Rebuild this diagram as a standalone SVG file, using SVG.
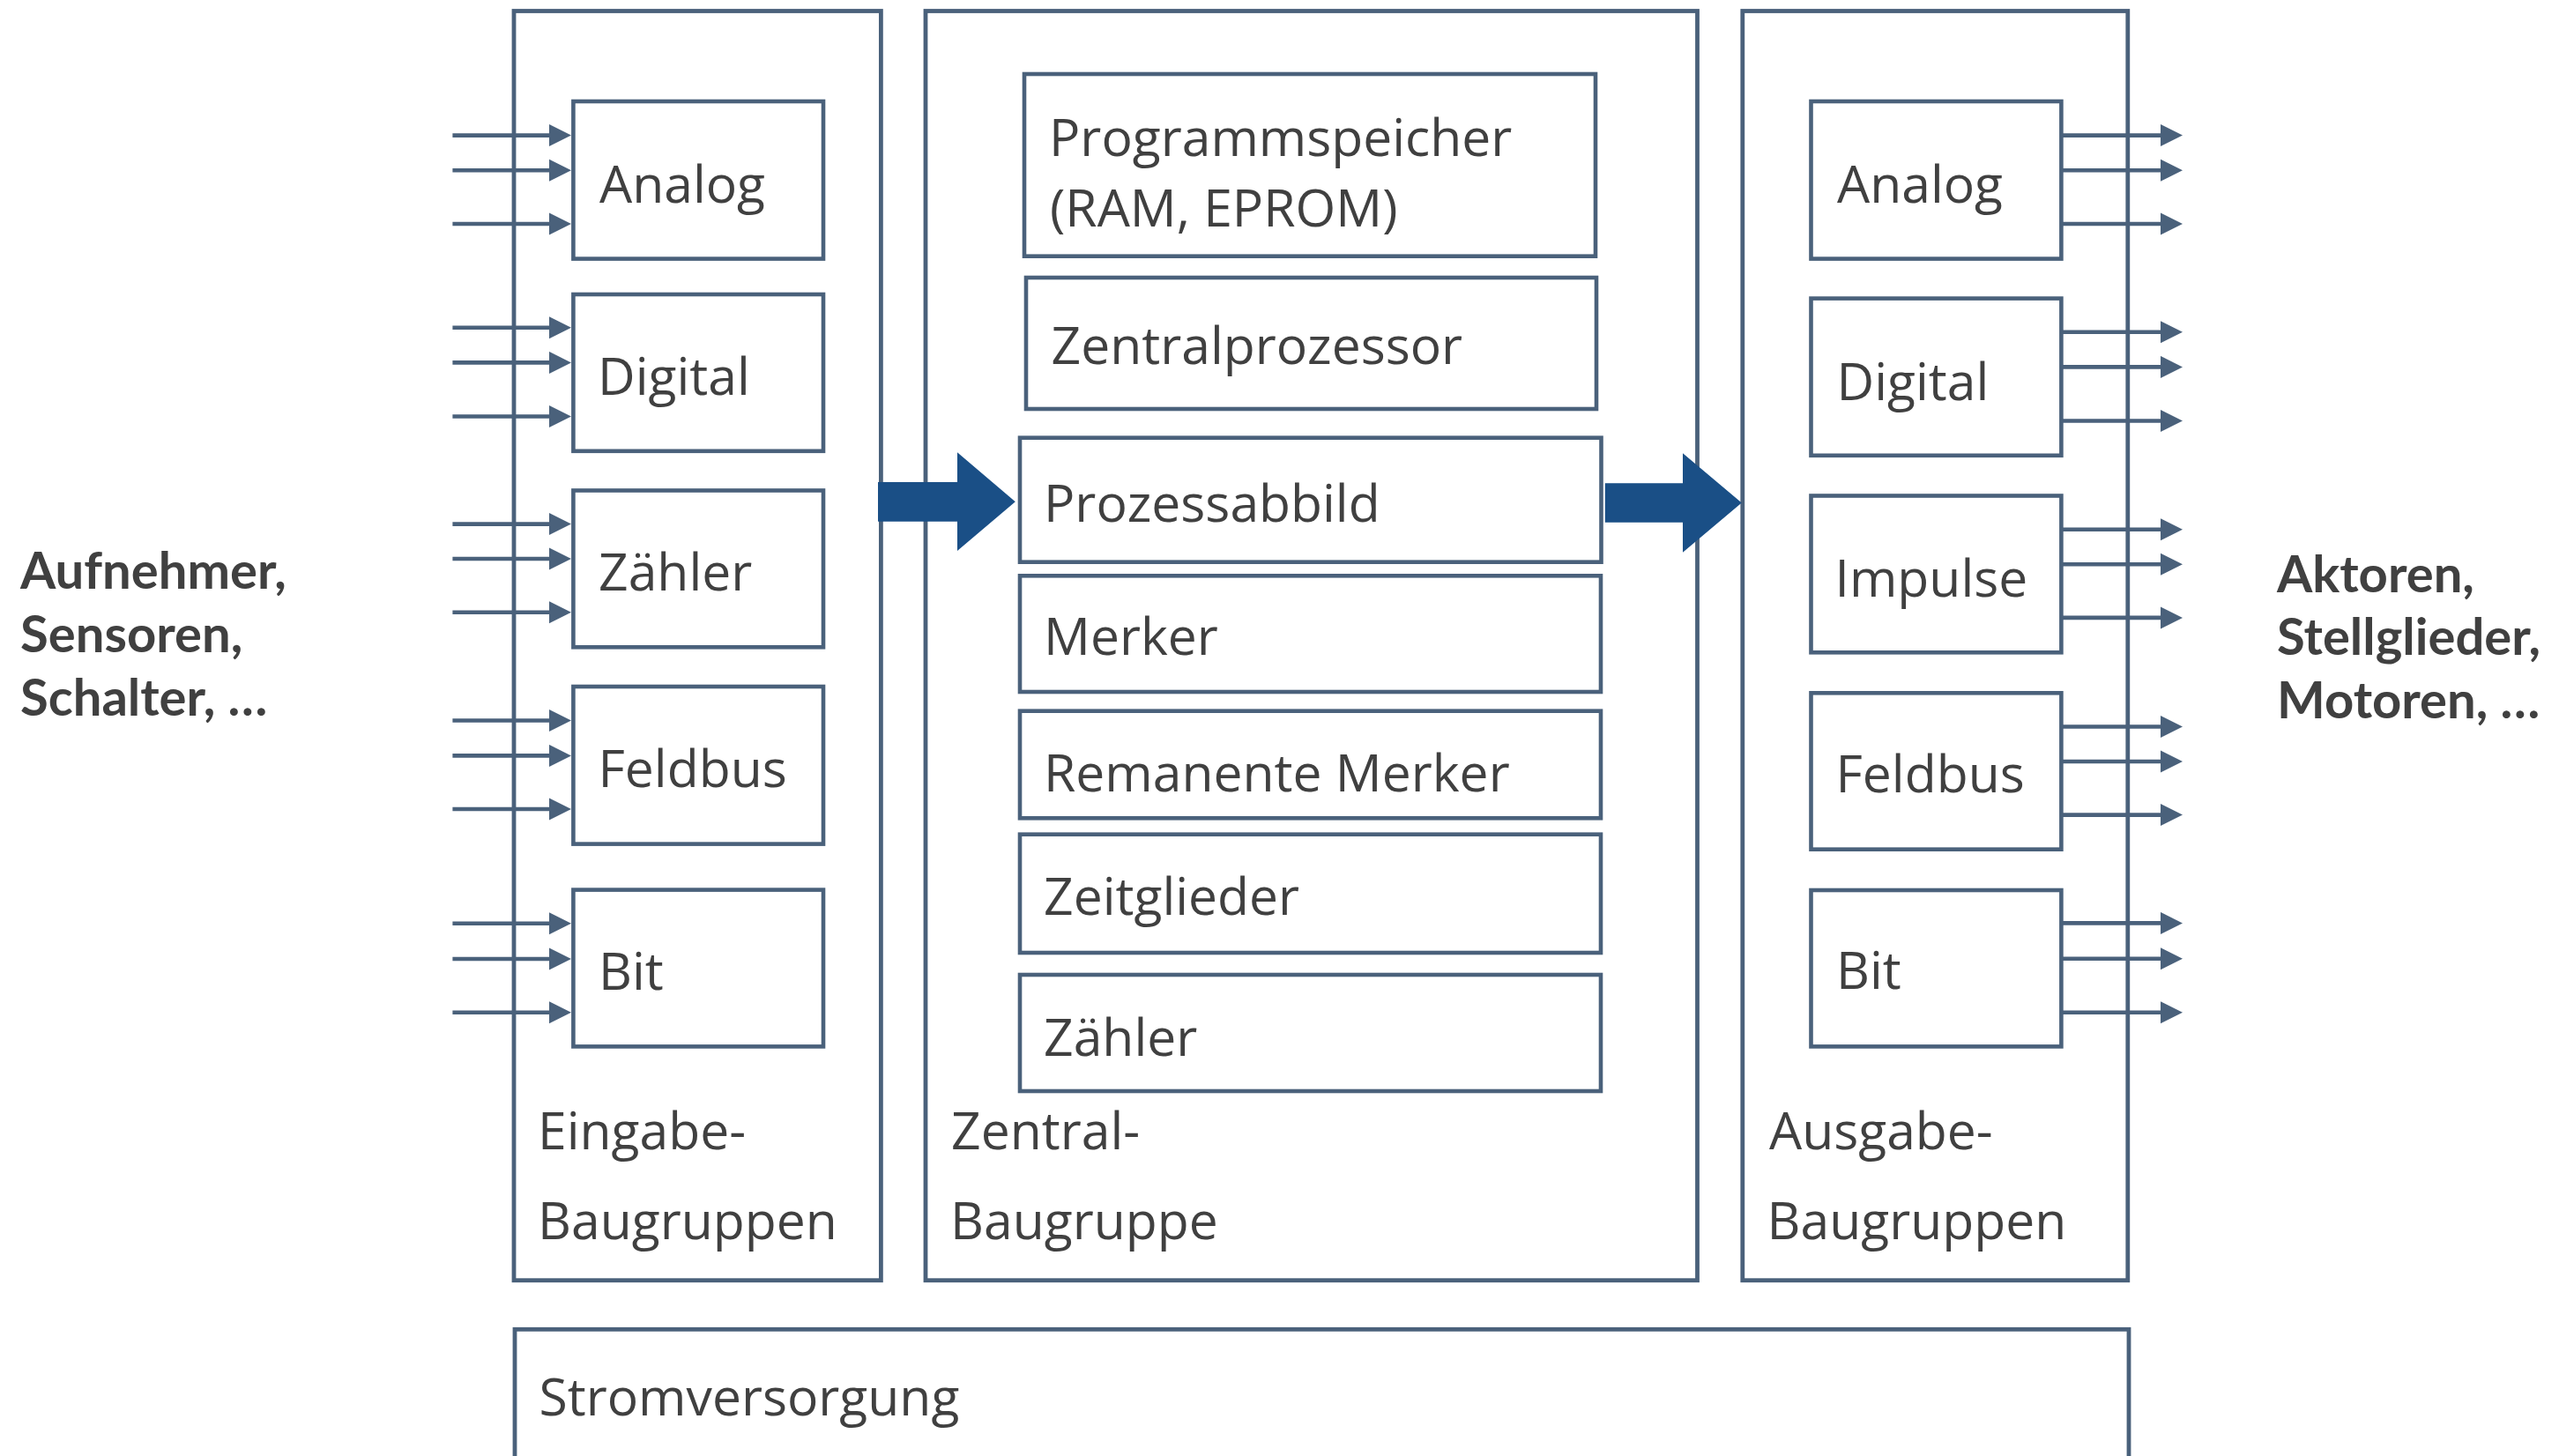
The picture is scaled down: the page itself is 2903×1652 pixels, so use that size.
<svg xmlns="http://www.w3.org/2000/svg" width="2903" height="1652" viewBox="0 0 2903 1652">
  <style>
    .frame{fill:#ffffff;stroke:#4a617b;stroke-width:4.8}
    .box{fill:#ffffff;stroke:#4a617b;stroke-width:4.6}
    .sig{stroke:#4a617b;stroke-width:4.6;fill:none;marker-end:url(#head)}
    .bus{fill:#1a4f86}
    .t{font-family:"Open Sans","Noto Sans","Liberation Sans",sans-serif;font-size:58.8px;fill:#404040}
    .side{font-family:Lato,"Open Sans","Liberation Sans",sans-serif;font-weight:bold;font-size:58px;fill:#404040}
  </style>
  <defs>
    <marker id="head" markerUnits="userSpaceOnUse" markerWidth="26" markerHeight="26" refX="1.5" refY="12.75" orient="auto">
      <path d="M0,0 L25.5,12.75 L0,25.5 Z" fill="#4a617b"/>
    </marker>
  </defs>
  <rect width="2903" height="1652" fill="#ffffff"/>

  <!-- module racks -->
  <g id="eingabe">
    <rect class="frame" x="583" y="12.5" width="416.4" height="1440.2"/>
    <text class="t" x="610" y="1304.3">Eingabe-</text>
    <text class="t" x="610" y="1405.7">Baugruppen</text>
  </g>
  <g id="zentral">
    <rect class="frame" x="1050" y="12.5" width="875.5" height="1440.2"/>
    <text class="t" x="1079" y="1304.3">Zentral-</text>
    <text class="t" x="1078" y="1405.7">Baugruppe</text>
  </g>
  <g id="ausgabe">
    <rect class="frame" x="1976.8" y="12.5" width="437" height="1440.2"/>
    <text class="t" x="2007" y="1304.3">Ausgabe-</text>
    <text class="t" x="2004.5" y="1405.7">Baugruppen</text>
  </g>
  <g id="stromversorgung">
    <rect class="frame" x="584" y="1508.3" width="1831" height="200"/>
    <text class="t" x="611.5" y="1606">Stromversorgung</text>
  </g>

  <!-- input modules -->
  <g id="in-analog"><rect class="box" x="650.4" y="115" width="283.6" height="178.6"/><text class="t" x="680" y="229.6">Analog</text></g>
  <g id="in-digital"><rect class="box" x="650.4" y="334" width="283.6" height="177.8"/><text class="t" x="678" y="448">Digital</text></g>
  <g id="in-zaehler"><rect class="box" x="650.4" y="556.5" width="283.6" height="177.8"/><text class="t" x="679" y="670">Zähler</text></g>
  <g id="in-feldbus"><rect class="box" x="650.4" y="779" width="283.6" height="178.6"/><text class="t" x="678.5" y="893.4">Feldbus</text></g>
  <g id="in-bit"><rect class="box" x="650.4" y="1009.6" width="283.6" height="177.8"/><text class="t" x="679" y="1123">Bit</text></g>

  <!-- central unit -->
  <g id="programmspeicher"><rect class="box" x="1162" y="84" width="648" height="206.7"/><text class="t" x="1190" y="176.7">Programmspeicher</text><text class="t" x="1191" y="256.7">(RAM, EPROM)</text></g>
  <g id="zentralprozessor"><rect class="box" x="1164" y="315" width="647" height="149"/><text class="t" x="1192.5" y="413.3">Zentralprozessor</text></g>
  <g id="prozessabbild"><rect class="box" x="1157" y="496.7" width="659.5" height="141"/><text class="t" x="1184" y="591.7">Prozessabbild</text></g>
  <g id="merker"><rect class="box" x="1157" y="653.3" width="659" height="131.7"/><text class="t" x="1184" y="743">Merker</text></g>
  <g id="remanente-merker"><rect class="box" x="1157" y="806.7" width="659" height="121.6"/><text class="t" x="1184" y="898.3">Remanente Merker</text></g>
  <g id="zeitglieder"><rect class="box" x="1157" y="946.7" width="659" height="134.3"/><text class="t" x="1184" y="1038.3">Zeitglieder</text></g>
  <g id="zaehler"><rect class="box" x="1157" y="1106" width="659" height="132"/><text class="t" x="1184" y="1198.3">Zähler</text></g>

  <!-- output modules -->
  <g id="out-analog"><rect class="box" x="2054.5" y="115" width="283.9" height="178.6"/><text class="t" x="2084" y="229.6">Analog</text></g>
  <g id="out-digital"><rect class="box" x="2054.5" y="338.6" width="283.9" height="178.2"/><text class="t" x="2083.5" y="453.6">Digital</text></g>
  <g id="out-impulse"><rect class="box" x="2054.5" y="562.5" width="283.9" height="177.8"/><text class="t" x="2081.5" y="676.6">Impulse</text></g>
  <g id="out-feldbus"><rect class="box" x="2054.5" y="786.3" width="283.9" height="177.4"/><text class="t" x="2082.5" y="899">Feldbus</text></g>
  <g id="out-bit"><rect class="box" x="2054.5" y="1010" width="283.9" height="177.4"/><text class="t" x="2083" y="1122.4">Bit</text></g>

  <!-- field side labels -->
  <g id="sensoren">
    <text class="side" x="23" y="668.3">Aufnehmer,</text>
    <text class="side" x="23" y="740">Sensoren,</text>
    <text class="side" x="23" y="811.7">Schalter, …</text>
  </g>
  <g id="aktoren">
    <text class="side" x="2583" y="671.7">Aktoren,</text>
    <text class="side" x="2583" y="743.3">Stellglieder,</text>
    <text class="side" x="2583" y="815">Motoren, …</text>
  </g>

  <!-- signal lines and data flow -->
  <g id="connectors">
    <path class="sig" d="M513.4,153.6H624"/><path class="sig" d="M513.4,193.2H624"/><path class="sig" d="M513.4,254H624"/>
    <path class="sig" d="M513.4,371.8H624"/><path class="sig" d="M513.4,411.4H624"/><path class="sig" d="M513.4,472.5H624"/>
    <path class="sig" d="M513.4,594.6H624"/><path class="sig" d="M513.4,634H624"/><path class="sig" d="M513.4,694.8H624"/>
    <path class="sig" d="M513.4,817.5H624"/><path class="sig" d="M513.4,857.4H624"/><path class="sig" d="M513.4,918H624"/>
    <path class="sig" d="M513.4,1047.8H624"/><path class="sig" d="M513.4,1088H624"/><path class="sig" d="M513.4,1148.8H624"/>

    <path class="sig" d="M2338.4,153.6H2452"/><path class="sig" d="M2338.4,193.2H2452"/><path class="sig" d="M2338.4,254H2452"/>
    <path class="sig" d="M2338.4,376.8H2452"/><path class="sig" d="M2338.4,416.4H2452"/><path class="sig" d="M2338.4,477.5H2452"/>
    <path class="sig" d="M2338.4,600.7H2452"/><path class="sig" d="M2338.4,640.2H2452"/><path class="sig" d="M2338.4,700.9H2452"/>
    <path class="sig" d="M2338.4,824.5H2452"/><path class="sig" d="M2338.4,864H2452"/><path class="sig" d="M2338.4,924.6H2452"/>
    <path class="sig" d="M2338.4,1047.4H2452"/><path class="sig" d="M2338.4,1087.7H2452"/><path class="sig" d="M2338.4,1148.8H2452"/>

    <polygon class="bus" points="996,547 1086,547 1086,513.3 1151.8,569.2 1086,625 1086,591.7 996,591.7"/>
    <polygon class="bus" points="1820.8,548.3 1909,548.3 1909,514.3 1975.8,570.5 1909,626.7 1909,592.7 1820.8,592.7"/>
  </g>
</svg>
